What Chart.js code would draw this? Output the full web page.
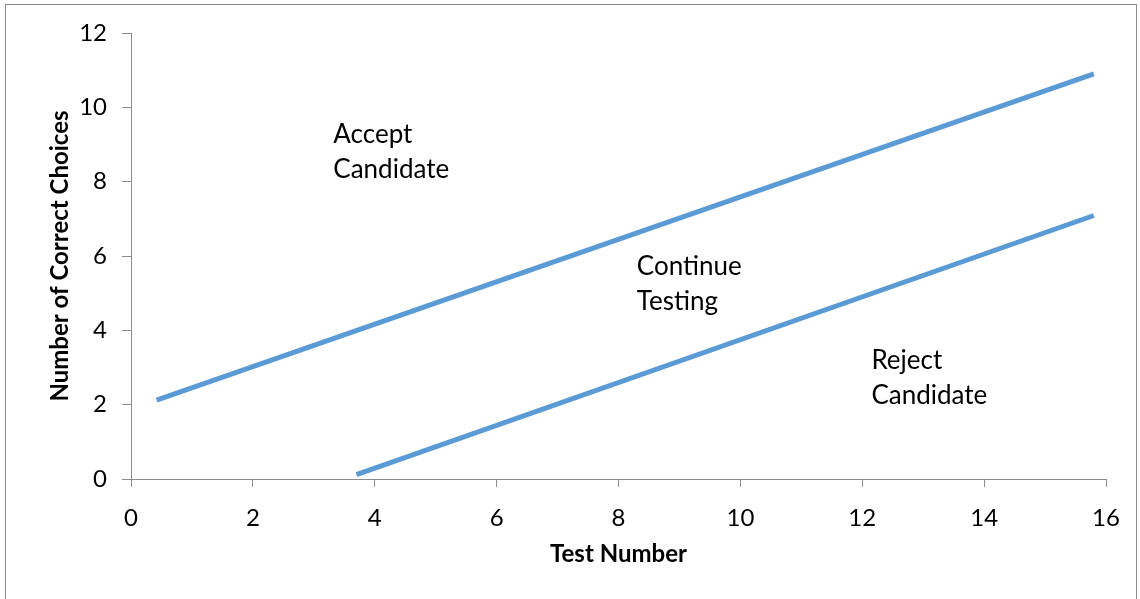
<!DOCTYPE html>
<html>
<head>
<meta charset="utf-8">
<script src="https://cdn.jsdelivr.net/npm/chart.js@4.4.1/dist/chart.umd.min.js"></script>
<style>
  html, body { margin: 0; padding: 0; background: #fff; }
  #wrap { width: 1140px; height: 599px; position: relative; }
</style>
</head>
<body>
<div id="wrap"><canvas id="chart"></canvas></div>
<script>
// boundary lines
const acceptX = [0.42, 15.8];
const acceptY = [2.12, 10.9];
const rejectX = [3.7, 15.8];
const rejectY = [0.12, 7.09];

const xTicks = [0, 2, 4, 6, 8, 10, 12, 14, 16];
const yTicks = [0, 2, 4, 6, 8, 10, 12];

// region labels
const regionText = [['Accept', 'Candidate'], ['Continue', 'Testing'], ['Reject', 'Candidate']];
const regionX = [3.32, 8.3, 12.15];
const regionY = [9.05, 5.5, 2.95];

const lineColor = '#5b9bd5';
const axisColor = '#8c8c8c';
const fontName = 'Lato, Calibri, sans-serif';

function toPoints(xs, ys) {
    return xs.map(function (x, i) { return { x: x, y: ys[i] }; });
}

// draws the outer frame and the region labels
const decor = {
    id: 'decor',
    beforeDraw(chart) {
        const ctx = chart.ctx;
        ctx.save();
        ctx.strokeStyle = '#8c8c8c';
        ctx.lineWidth = 1;
        ctx.strokeRect(5.5, 4.5, 1131, 700);
        ctx.restore();
    },
    afterDatasetsDraw(chart) {
        const ctx = chart.ctx;
        const xs = chart.scales.x;
        const ys = chart.scales.y;
        ctx.save();
        ctx.fillStyle = '#000';
        ctx.font = '26px ' + fontName;
        ctx.textAlign = 'left';
        ctx.textBaseline = 'alphabetic';
        regionText.forEach(function (lines, i) {
            const px = xs.getPixelForValue(regionX[i]);
            const py = ys.getPixelForValue(regionY[i]);
            lines.forEach(function (t, j) {
                ctx.fillText(t, px, py + j * 35);
            });
        });
        ctx.restore();
    }
};

new Chart(document.getElementById('chart'), {
    type: 'scatter',
    data: {
        datasets: [{
            label: 'Accept',
            data: toPoints(acceptX, acceptY),
            showLine: true,
            borderColor: lineColor,
            borderWidth: 5,
            pointRadius: 0,
            borderCapStyle: 'butt'
        }, {
            label: 'Reject',
            data: toPoints(rejectX, rejectY),
            showLine: true,
            borderColor: lineColor,
            borderWidth: 5,
            pointRadius: 0,
            borderCapStyle: 'butt'
        }]
    },
    options: {
        responsive: true,
        maintainAspectRatio: false,
        animation: false,
        layout: { padding: { left: 0, top: 33, right: 34, bottom: 0 } },
        plugins: {
            legend: { display: false },
            tooltip: { enabled: false }
        },
        scales: {
            x: {
                type: 'linear',
                min: 0,
                max: 16,
                afterFit(scale) { scale.height = 120; },
                afterBuildTicks(scale) { scale.ticks = xTicks.map(function (v) { return { value: v }; }); },
                grid: { drawOnChartArea: false, drawTicks: true, tickLength: 8, color: axisColor },
                border: { color: axisColor },
                ticks: { color: '#000', padding: 17, font: { family: fontName, size: 24 } },
                title: {
                    display: true,
                    text: 'Test Number',
                    color: '#000',
                    font: { family: fontName, size: 24, weight: 'bold' },
                    padding: { top: 0, bottom: 30 }
                }
            },
            y: {
                type: 'linear',
                min: 0,
                max: 12,
                afterFit(scale) { scale.width = 131; },
                afterBuildTicks(scale) { scale.ticks = yTicks.map(function (v) { return { value: v }; }); },
                grid: { drawOnChartArea: false, drawTicks: true, tickLength: 9, color: axisColor },
                border: { color: axisColor },
                ticks: { color: '#000', padding: 15, font: { family: fontName, size: 24 } },
                title: {
                    display: true,
                    text: 'Number of Correct Choices',
                    color: '#000',
                    font: { family: fontName, size: 24, weight: 'bold' },
                    padding: { top: 46, bottom: 0 }
                }
            }
        }
    },
    plugins: [decor]
});
</script>
</body>
</html>
